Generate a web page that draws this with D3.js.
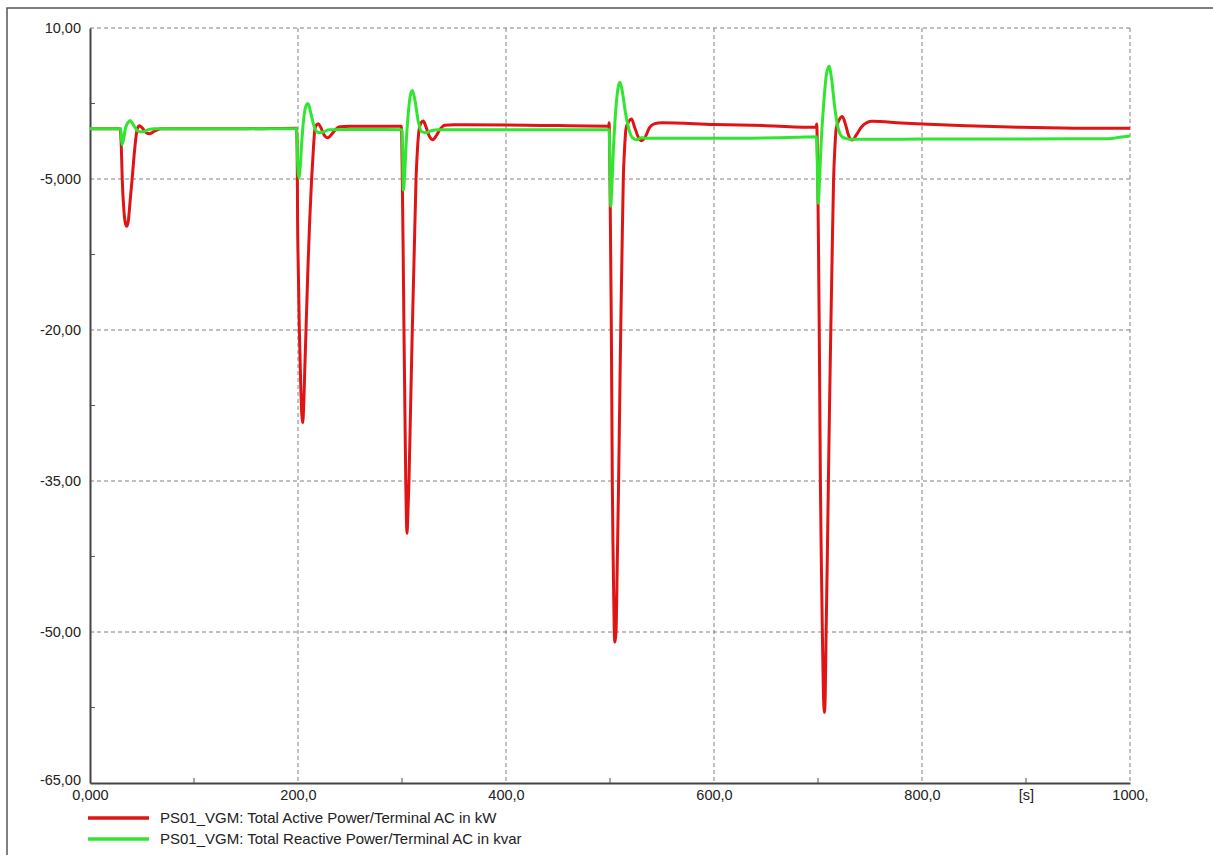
<!DOCTYPE html>
<html>
<head>
<meta charset="utf-8">
<script src="https://cdn.jsdelivr.net/npm/d3@7"></script>
<style>
  body { margin: 0; background: #fff; }
  text { font-family: "Liberation Sans", Arial, sans-serif; }
</style>
</head>
<body>
<div id="chart"></div>
<script>
// time [s], active power [kW]
const activePower = [
  [0, 0], [29, 0], [30, -1.5], [31, -5], [32.5, -8], [34, -9.4], [35.3, -9.7], [36.8, -9.2], [38.5, -7.3],
  [40.5, -5], [43, -2], [45.5, 0], [47.5, 0.3], [50, 0.1], [54, -0.4], [57.5, -0.5], [62, -0.25], [68, 0], [150, 0],
  [198.5, 0.05], [199.2, -2], [199.6, -9], [200.3, -14], [201.3, -20], [202.5, -25], [203.6, -28.3], [204.5, -29.2],
  [205.5, -27.5], [206.5, -24], [207.7, -20], [209.5, -14], [211.3, -9], [213.1, -5], [214.8, -2], [216.3, 0],
  [218, 0.4], [219.5, 0.5], [222, 0.1], [225, -0.6], [228.5, -0.9], [232, -0.6], [236, -0.1], [240, 0.2], [250, 0.25],
  [299.2, 0.25], [299.7, -0.5], [300.3, -5], [301.1, -12], [301.9, -20], [302.8, -28], [303.6, -35], [304.2, -38.5],
  [304.8, -40.2], [305.6, -38.5], [306.7, -35], [308.3, -27.5], [309.9, -20], [311.7, -12.5], [313.5, -5], [315, -1.8],
  [316.6, 0], [318.5, 0.6], [320.5, 0.75], [323, 0.2], [326, -0.7], [329.5, -1.1], [333, -0.7], [337, 0], [341, 0.35],
  [350, 0.4], [420, 0.35],
  [498.8, 0.25], [499.2, 0.6], [499.5, -1], [500, -5], [500.6, -12], [501.3, -20], [501.8, -28], [502.2, -35],
  [503.1, -43], [504.1, -50], [504.8, -51], [505.8, -50], [507, -43], [508.3, -35], [509.3, -27.5], [510.3, -20],
  [511.5, -12.5], [512.8, -5], [514, -2], [515.4, 0], [518, 0.7], [520.8, 0.95], [523.5, 0.2], [527, -0.8],
  [530.5, -1.2], [534, -0.8], [538, 0.1], [543, 0.5], [550, 0.6], [600, 0.42], [650, 0.3],
  [698, 0.13], [698.8, 0.46], [699.2, -1], [699.8, -5], [700.5, -12], [701.2, -20], [701.8, -28], [702.3, -35],
  [703.2, -43], [704.2, -50], [705.2, -56], [706.2, -58], [707, -56], [707.8, -50], [708.9, -43], [710, -35],
  [711.1, -27.5], [712.3, -20], [713.6, -12.5], [715, -5], [716.2, -2], [717.5, 0], [720.5, 0.9], [723.4, 1.2],
  [726.5, 0.4], [729.5, -0.7], [733, -1.13], [737, -0.6], [742, 0.2], [747, 0.6], [752, 0.73], [780, 0.56],
  [800, 0.46], [830, 0.35], [860, 0.23], [895, 0.13], [947, 0.05], [1000, 0.03]
];

// time [s], reactive power [kvar]
const reactivePower = [
  [0, 0], [29.5, 0], [30, -0.6], [30.8, -1.6], [32, -1.2], [34, 0], [36.5, 0.6], [38.5, 0.8], [41, 0.5], [44, 0],
  [47, -0.3], [51, -0.3], [56, -0.1], [62, 0], [150, 0],
  [198.6, 0], [199.3, -2.5], [200.3, -4.5], [201, -4.9], [202, -4], [203.5, -1.5], [205.5, 1], [207.5, 2.2],
  [209.6, 2.5], [212, 1.7], [215, 0.4], [218, -0.3], [221, -0.4], [225, -0.3], [230, -0.1], [250, -0.08],
  [300, -0.1], [300.6, -2], [301.3, -6.1], [302.3, -5], [304, -1.5], [306, 1.5], [308, 3.3], [310, 3.8], [312.5, 2.8],
  [315.5, 0.8], [319, -0.3], [323, -0.4], [328, -0.2], [335, -0.1], [420, -0.1],
  [499.2, -0.1], [499.8, -3], [500.7, -7.7], [501.7, -6], [503.3, -2], [505.5, 1.8], [507.5, 3.9], [509.6, 4.6],
  [512, 3.6], [515, 1.5], [518, 0], [521.5, -0.9], [525.7, -1.1], [530, -0.9], [536, -0.96], [600, -0.96], [680, -0.85],
  [698.5, -0.8], [699.2, -3], [700.3, -7.4], [701.3, -5.5], [703, -1.5], [705.5, 2.5], [708, 5.3], [710.6, 6.2],
  [713, 5], [716, 2.2], [719, 0.2], [723, -0.8], [728, -1.0], [733, -1.06], [760, -1.06], [800, -1.03], [900, -1.02],
  [980, -1.0], [990, -0.85], [1000, -0.73]
];

const yTicks = [10, -5, -20, -35, -50, -65];
const yTickLabels = ["10,00", "-5,000", "-20,00", "-35,00", "-50,00", "-65,00"];
const yMinorTicks = [2.5, -12.5, -27.5, -42.5, -57.5];
const xTicks = [0, 200, 400, 600, 800, 900, 1000];
const xTickLabels = ["0,000", "200,0", "400,0", "600,0", "800,0", "[s]", "1000,"];
const xMinorTicks = [100, 300, 500, 700, 900];
const xGrid = [200, 400, 600, 800, 1000];
const yGrid = [10, -5, -20, -35, -50];
const legendLabels = [
  "PS01_VGM: Total Active Power/Terminal AC in kW",
  "PS01_VGM: Total Reactive Power/Terminal AC in kvar"
];
const seriesColors = ["#e01414", "#30e630"];

function drawChart(id) {
  const div = d3.select(`#${id}`);
  div.selectAll("*").remove();

  const width = 1213, height = 855;
  const margin = { left: 90, right: 83, top: 28, bottom: 72 };
  const svg = div.append("svg").attr("width", width).attr("height", height);

  // outer frame (top and left edges only visible)
  svg.append("path")
    .attr("d", `M7,${height} L7,8 L${width},8`)
    .attr("fill", "none")
    .attr("stroke", "#555")
    .attr("stroke-width", 1.5);

  const x = d3.scaleLinear().domain([0, 1000]).range([margin.left, width - margin.right]);
  const y = d3.scaleLinear().domain([-65, 10]).range([height - margin.bottom, margin.top]);

  // dashed grid
  const grid = svg.append("g")
    .attr("stroke", "#808080")
    .attr("stroke-width", 1)
    .attr("stroke-dasharray", "4,3");
  grid.selectAll(".gx").data(xGrid).join("line")
    .attr("x1", d => x(d)).attr("x2", d => x(d))
    .attr("y1", y(10)).attr("y2", y(-65));
  grid.selectAll(".gy").data(yGrid).join("line")
    .attr("x1", x(0)).attr("x2", x(1000))
    .attr("y1", d => y(d)).attr("y2", d => y(d));

  // minor ticks
  svg.append("g").selectAll("line").data(yMinorTicks).join("line")
    .attr("x1", x(0)).attr("x2", x(0) + 5)
    .attr("y1", d => y(d)).attr("y2", d => y(d))
    .attr("stroke", "#555");
  svg.append("g").selectAll("line").data(xMinorTicks).join("line")
    .attr("x1", d => x(d)).attr("x2", d => x(d))
    .attr("y1", y(-65)).attr("y2", y(-65) - 5)
    .attr("stroke", "#555");

  // axes
  const yAxis = svg.append("g")
    .attr("transform", `translate(${x(0)},0)`)
    .call(d3.axisLeft(y).tickValues(yTicks)
      .tickFormat((d, i) => yTickLabels[i])
      .tickSize(0).tickSizeOuter(0).tickPadding(9));
  const xAxis = svg.append("g")
    .attr("transform", `translate(0,${y(-65)})`)
    .call(d3.axisBottom(x).tickValues(xTicks)
      .tickFormat((d, i) => xTickLabels[i])
      .tickSize(0).tickSizeOuter(0).tickPadding(7));
  [yAxis, xAxis].forEach(a => {
    a.select(".domain").attr("stroke", "#444").attr("stroke-width", 2);
    a.selectAll("text").attr("fill", "#222").style("font-size", "14.5px");
  });
  // bottom y label sits a touch higher, clear of the first x label
  yAxis.selectAll(".tick").filter(d => d === -65).select("text").attr("dy", "0.1em");

  // curves
  const line = d3.line()
    .x(d => x(d[0]))
    .y(d => y(d[1]))
    .curve(d3.curveMonotoneX);

  [activePower, reactivePower].forEach((s, i) => {
    svg.append("path")
      .datum(s)
      .attr("d", line)
      .attr("fill", "none")
      .attr("stroke", seriesColors[i])
      .attr("stroke-width", 3)
      .attr("stroke-linejoin", "round");
  });

  // legend
  const legend = svg.append("g").attr("transform", "translate(88,818)");
  const items = legend.selectAll("g").data(legendLabels).join("g")
    .attr("transform", (d, i) => `translate(0,${i * 21})`);
  items.append("line")
    .attr("x1", 0).attr("x2", 61)
    .attr("stroke", (d, i) => seriesColors[i])
    .attr("stroke-width", 3.5);
  items.append("text")
    .attr("x", 72)
    .attr("dy", "0.35em")
    .attr("fill", "#222")
    .style("font-size", "15px")
    .text(d => d);
}

drawChart("chart");
</script>
</body>
</html>
